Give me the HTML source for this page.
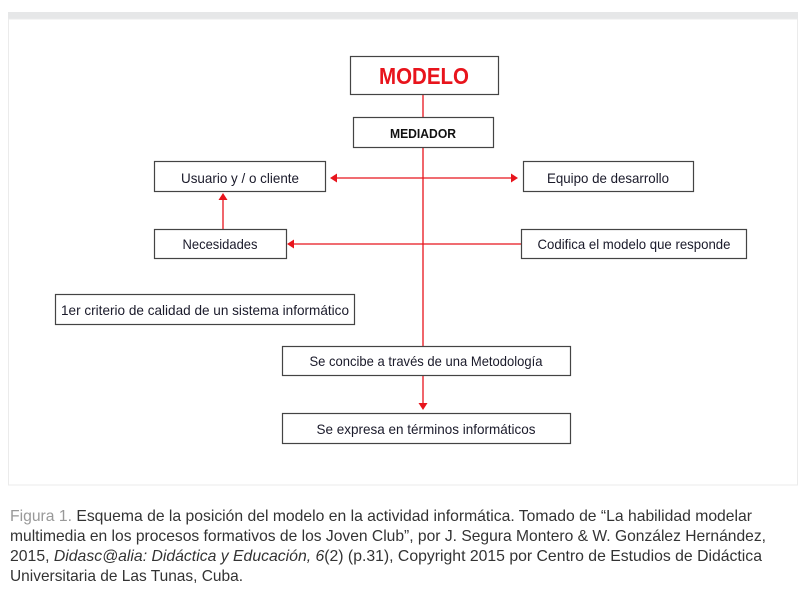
<!DOCTYPE html>
<html><head><meta charset="utf-8"><style>
html,body{margin:0;padding:0;background:#fff;}
svg{display:block}
</style></head><body>
<svg width="807" height="594" viewBox="0 0 807 594" xmlns="http://www.w3.org/2000/svg" font-family="'Liberation Sans', sans-serif">
<rect x="8" y="12" width="790" height="7" fill="#e6e7e8"/>
<rect x="8.5" y="19" width="789" height="466" fill="none" stroke="#ebebeb" stroke-width="1"/>
<g fill="none" stroke="#e8141c" stroke-width="1.3">
<line x1="423" y1="94" x2="423" y2="117"/>
<line x1="423" y1="147" x2="423" y2="346"/>
<line x1="423" y1="375" x2="423" y2="405"/>
<line x1="335" y1="178" x2="513" y2="178"/>
<line x1="292" y1="244" x2="521" y2="244"/>
<line x1="223" y1="229" x2="223" y2="199"/>
</g>
<g fill="#e8141c">
<polygon points="330,178 337,173.5 337,182.5"/>
<polygon points="518,178 511,173.5 511,182.5"/>
<polygon points="287,244 294,239.5 294,248.5"/>
<polygon points="223,193 218.5,200 227.5,200"/>
<polygon points="423,410 418.5,403 427.5,403"/>
</g>
<g fill="#fff" stroke="#444" stroke-width="1.2">
<rect x="350.5" y="56.5" width="148" height="38"/>
<rect x="353.5" y="117.5" width="140" height="30"/>
<rect x="154.5" y="161.5" width="171" height="30"/>
<rect x="523.5" y="161.5" width="170" height="30"/>
<rect x="154.5" y="229.5" width="132" height="29"/>
<rect x="521.5" y="229.5" width="225" height="29"/>
<rect x="55.5" y="294.5" width="299" height="30"/>
<rect x="282.5" y="346.5" width="288" height="29"/>
<rect x="282.5" y="413.5" width="288" height="30"/>
</g>
<text x="424" y="84" text-anchor="middle" font-size="23" font-weight="bold" fill="#e8141c" textLength="90" lengthAdjust="spacingAndGlyphs">MODELO</text>
<text x="423" y="138" text-anchor="middle" font-size="13" font-weight="bold" fill="#111" textLength="66" lengthAdjust="spacingAndGlyphs">MEDIADOR</text>
<g font-size="14" fill="#1a1a2a" text-anchor="middle">
<text x="240" y="183" textLength="118" lengthAdjust="spacingAndGlyphs">Usuario y / o cliente</text>
<text x="608" y="183" textLength="122" lengthAdjust="spacingAndGlyphs">Equipo de desarrollo</text>
<text x="220" y="249" textLength="75" lengthAdjust="spacingAndGlyphs">Necesidades</text>
<text x="634" y="249" textLength="193" lengthAdjust="spacingAndGlyphs">Codifica el modelo que responde</text>
<text x="205" y="315" textLength="288" lengthAdjust="spacingAndGlyphs">1er criterio de calidad de un sistema informático</text>
<text x="426" y="366" textLength="233" lengthAdjust="spacingAndGlyphs">Se concibe a través de una Metodología</text>
<text x="426" y="434" textLength="219" lengthAdjust="spacingAndGlyphs">Se expresa en términos informáticos</text>
</g>
<g font-size="16" fill="#333">
<text x="10" y="521" textLength="742" lengthAdjust="spacingAndGlyphs"><tspan fill="#999">Figura 1.</tspan> Esquema de la posición del modelo en la actividad informática. Tomado de “La habilidad modelar</text>
<text x="10" y="541" textLength="756" lengthAdjust="spacingAndGlyphs">multimedia en los procesos formativos de los Joven Club”, por J. Segura Montero &amp; W. González Hernández,</text>
<text x="10" y="561" textLength="752" lengthAdjust="spacingAndGlyphs">2015, <tspan font-style="italic">Didasc@alia: Didáctica y Educación, 6</tspan>(2) (p.31), Copyright 2015 por Centro de Estudios de Didáctica</text>
<text x="10" y="581" textLength="233" lengthAdjust="spacingAndGlyphs">Universitaria de Las Tunas, Cuba.</text>
</g>
</svg>
</body></html>
